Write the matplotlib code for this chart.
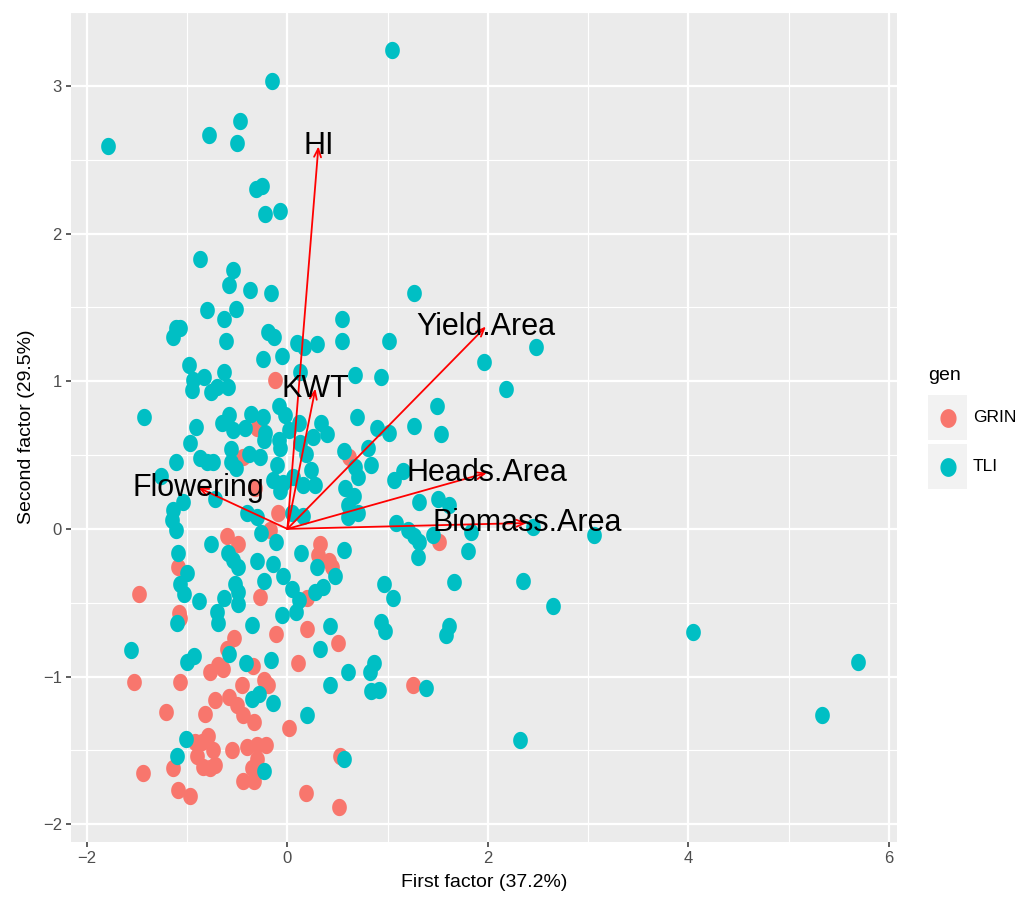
import numpy as np
import matplotlib
matplotlib.use("Agg")
import matplotlib.pyplot as plt
from matplotlib.path import Path
from matplotlib.patches import Rectangle
from matplotlib.lines import Line2D

plt.rcParams['font.family'] = ['Liberation Sans', 'DejaVu Sans']

# factor scores, TLI genotypes
tli_x = [1.04, -0.15, -1.79, -0.78, -0.47, -0.50, -0.31, -0.25, -0.22, -0.07,
         -0.87, -0.54, -0.58, -0.37, -0.16, 1.26, -0.80, -0.51, -0.63, 0.55,
         -1.11, -1.07, -1.14, -0.19, -0.13, -0.61, 0.10, 0.17, 0.30, 0.55,
         1.01, -0.24, -0.05, -0.98, -0.63, 0.13, 0.67, 0.93, -0.94, -0.83,
         -0.95, -0.76, -0.70, -0.59, 2.18, 1.96, 2.48, 1.49, -1.43, -0.08,
         -0.02, 0.69, -0.58, -0.65, -0.54, -0.42, -0.36, -0.24, -0.91, -0.97,
         0.12, 0.02, 0.34, 0.26, 0.40, 0.89, 1.01, 1.26, 1.53, -0.23,
         -0.22, -0.08, -0.07, 0.13, 0.19, -0.56, 0.57, 0.80, -1.11, -0.87,
         -0.80, -0.74, -0.56, -0.51, -0.38, -0.27, -0.10, 0.24, 0.67, 0.70,
         0.83, -1.26, -0.14, -0.04, -0.07, 0.06, 0.16, 0.28, 0.58, 0.66,
         1.06, 1.15, -1.14, -1.15, -1.04, -0.72, -0.40, -0.30, 0.05, 0.16,
         0.60, 0.70, 0.60, 1.31, 1.50, 1.61, 1.08, 1.20, 1.26, 1.31,
         1.30, 1.83, 1.80, 2.45, 3.06, 1.45, -1.11, -0.76, -0.26, -0.11,
         -1.09, -1.00, -1.07, -1.03, -0.59, -0.54, -0.49, -0.30, -0.14, -0.04,
         -0.23, 0.14, 0.57, 0.30, 0.48, 0.36, 0.28, 0.05, 0.12, 0.09,
         -0.52, -0.49, -0.49, -0.63, -0.88, -1.10, -0.70, -0.69, -0.05, -0.35,
         0.43, 0.33, -1.56, -0.58, -1.00, -0.93, -0.41, -0.16, 0.60, 0.43,
         0.82, 0.86, 0.83, 0.91, -0.35, -0.28, -0.14, 0.20, -1.01, -1.10,
         -0.23, 0.57, 0.96, 1.05, 1.66, 0.93, 0.97, 1.61, 1.58, 1.38,
         2.35, 2.65, 4.04, 5.69, 5.33, 2.32]
tli_y = [3.24, 3.03, 2.59, 2.67, 2.76, 2.61, 2.30, 2.32, 2.13, 2.15,
         1.83, 1.75, 1.65, 1.62, 1.60, 1.60, 1.48, 1.49, 1.42, 1.42,
         1.36, 1.36, 1.30, 1.33, 1.30, 1.27, 1.26, 1.23, 1.25, 1.27,
         1.27, 1.15, 1.17, 1.11, 1.06, 1.06, 1.04, 1.03, 1.01, 1.03,
         0.94, 0.93, 0.96, 0.96, 0.95, 1.13, 1.23, 0.83, 0.76, 0.83,
         0.77, 0.76, 0.77, 0.72, 0.67, 0.68, 0.78, 0.76, 0.69, 0.58,
         0.72, 0.67, 0.72, 0.62, 0.64, 0.68, 0.65, 0.70, 0.64, 0.60,
         0.65, 0.60, 0.55, 0.58, 0.51, 0.54, 0.53, 0.55, 0.45, 0.48,
         0.45, 0.45, 0.45, 0.41, 0.51, 0.49, 0.43, 0.40, 0.42, 0.35,
         0.43, 0.36, 0.33, 0.31, 0.26, 0.35, 0.30, 0.30, 0.28, 0.22,
         0.33, 0.39, 0.13, 0.06, 0.18, 0.20, 0.11, 0.08, 0.11, 0.09,
         0.08, 0.11, 0.16, 0.18, 0.20, 0.16, 0.04, -0.01, -0.05, -0.09,
         -0.19, -0.02, -0.15, 0.01, -0.04, -0.04, -0.01, -0.10, -0.03, -0.09,
         -0.16, -0.30, -0.37, -0.44, -0.16, -0.21, -0.26, -0.22, -0.24, -0.32,
         -0.35, -0.16, -0.14, -0.26, -0.32, -0.39, -0.43, -0.41, -0.48, -0.56,
         -0.37, -0.43, -0.51, -0.47, -0.49, -0.64, -0.56, -0.64, -0.58, -0.65,
         -0.66, -0.81, -0.82, -0.85, -0.90, -0.86, -0.91, -0.89, -0.97, -1.06,
         -0.97, -0.91, -1.10, -1.09, -1.15, -1.12, -1.18, -1.26, -1.42, -1.54,
         -1.64, -1.56, -0.37, -0.47, -0.36, -0.63, -0.69, -0.66, -0.72, -1.08,
         -0.35, -0.52, -0.70, -0.90, -1.26, -1.43]

# factor scores, GRIN genotypes
grin_x = [-0.12, -0.30, -0.44, 0.61, -0.32, -0.09, -0.17, 1.51, -0.60, -0.49,
          -1.09, 0.33, 0.31, 0.42, 0.45, 0.20, -0.27, -1.48, -1.08, -1.07,
          -0.11, 0.20, 0.51, -0.53, -0.60, -0.34, 0.11, -0.77, -0.69, -0.64,
          -1.53, -1.07, -0.45, -0.58, -0.50, -0.44, -0.23, -0.19, -0.72, -0.82,
          -1.21, -0.33, 0.02, -0.92, -0.79, -0.85, -0.74, -0.90, -0.84, -0.77,
          -0.72, -1.14, -1.44, -0.55, -0.40, -0.30, -0.21, -0.30, -0.35, -0.44,
          -0.33, -1.09, -0.97, 0.19, 0.53, 0.52, 1.25]
grin_y = [1.01, 0.68, 0.49, 0.49, 0.28, 0.11, -0.01, -0.09, -0.05, -0.10,
          -0.26, -0.10, -0.18, -0.22, -0.26, -0.47, -0.46, -0.44, -0.57, -0.60,
          -0.71, -0.68, -0.77, -0.74, -0.81, -0.93, -0.91, -0.97, -0.92, -0.95,
          -1.04, -1.04, -1.06, -1.14, -1.19, -1.26, -1.02, -1.06, -1.16, -1.25,
          -1.24, -1.31, -1.35, -1.44, -1.40, -1.44, -1.50, -1.54, -1.61, -1.62,
          -1.60, -1.62, -1.65, -1.50, -1.48, -1.46, -1.46, -1.56, -1.62, -1.71,
          -1.71, -1.77, -1.81, -1.79, -1.54, -1.88, -1.06]

# loadings (arrows)
var_names = ["HI", "KWT", "Yield.Area", "Heads.Area", "Biomass.Area", "Flowering"]
load_x = [0.31, 0.28, 1.98, 1.99, 2.39, -0.89]
load_y = [2.59, 0.95, 1.37, 0.38, 0.04, 0.28]

col_grin = "#F8766D"
col_tli = "#00BFC4"

# slightly tall ellipse marker, like the stretched ggplot export
t = np.linspace(0, 2 * np.pi, 64)
ell = Path(np.column_stack([0.85 * np.cos(t), np.sin(t)]), closed=True)

W, H = 1017, 902
fig = plt.figure(figsize=(W / 100, H / 100), dpi=100)
ax = fig.add_axes([71 / W, 1 - 842 / H, (897 - 71) / W, (842 - 12) / H])
ax.set_facecolor("#EBEBEB")
for s in ax.spines.values():
    s.set_visible(False)

ax.set_xlim(-2.157, 6.079)
ax.set_ylim(-2.12, 3.5)
ax.set_xticks([-2, 0, 2, 4, 6])
ax.set_yticks([-2, -1, 0, 1, 2, 3])
ax.set_xticks([-1, 1, 3, 5], minor=True)
ax.set_yticks([-1.5, -0.5, 0.5, 1.5, 2.5, 3.5], minor=True)
ax.grid(which="major", color="white", lw=1.6)
ax.grid(which="minor", color="white", lw=0.8)
ax.set_axisbelow(True)
ax.tick_params(which="major", length=3.5, width=1.1, color="#333333",
               labelcolor="#4D4D4D", labelsize=12, pad=3)
ax.tick_params(which="minor", length=0)

ax.scatter(grin_x, grin_y, s=155, marker=ell, color=col_grin, lw=0, zorder=2)
ax.scatter(tli_x, tli_y, s=155, marker=ell, color=col_tli, lw=0, zorder=2)

for name, lx, ly in zip(var_names, load_x, load_y):
    ax.annotate("", xy=(lx, ly), xytext=(0, 0),
                arrowprops=dict(arrowstyle="->,head_length=0.6,head_width=0.25",
                                color="red", lw=1.3, shrinkA=0, shrinkB=0), zorder=3)
    ax.text(lx, ly, name, ha="center", va="center", fontsize=22, color="black", zorder=4)

ax.set_xlabel("First factor (37.2%)", fontsize=14, color="black", labelpad=6)
ax.set_ylabel("Second factor (29.5%)", fontsize=14, color="black", labelpad=6)

# legend drawn by hand in ggplot style
fig.text(928 / W, 1 - 375 / H, "gen", fontsize=14, va="center", ha="left")
for i, (lab, c) in enumerate([("GRIN", col_grin), ("TLI", col_tli)]):
    top = 395 + i * 49
    fig.patches.append(Rectangle((928 / W, 1 - (top + 45) / H), 39 / W, 45 / H,
                                 transform=fig.transFigure, color="#F2F2F2", lw=0))
    fig.lines.append(Line2D([947.5 / W], [1 - (top + 22.5) / H], marker=ell,
                            markersize=12.5, color=c, lw=0, transform=fig.transFigure))
    fig.text(973 / W, 1 - (top + 22.5) / H, lab, fontsize=12.5, va="center", ha="left")

fig.savefig("out.png", dpi=100)
